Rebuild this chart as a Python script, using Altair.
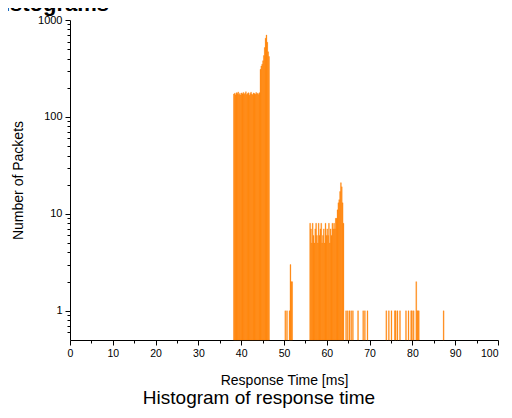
import altair as alt
import pandas as pd

# ---- data ----
bin_width = 0.2

main_start = 38.2
main_counts = [172, 176, 169, 178, 174, 181, 170, 175, 168, 177, 173, 179, 171, 176, 182, 170,
               174, 178, 167, 175, 180, 172, 169, 177, 174, 171, 179, 173, 176, 170, 178,
               310, 335, 350, 380, 430, 520, 650, 700, 590, 470, 420]

second_start = 56.0
second_counts = [8, 7, 5, 8, 6, 5, 7, 8, 6, 5, 8, 6, 7, 8, 5, 6, 7, 5, 8, 6,
                 7, 6, 8, 5, 7, 6, 8, 7, 8, 7, 9, 9, 11, 13, 14, 17, 21, 19, 13, 8]

small_positions = [50.2, 50.6, 51.2, 51.4, 51.6, 51.8]
small_counts = [1, 1, 1, 3, 2, 2]

sparse_positions = [64.4, 64.8, 65.2, 65.6, 66.0, 67.2, 68.4, 68.8, 69.4, 73.8, 74.4, 75.0,
                    75.8, 76.0, 76.4, 77.0, 78.4, 79.0, 79.6, 79.8, 80.2, 80.8, 81.0, 81.2,
                    81.4, 87.2]
sparse_counts = [1, 1, 1, 1, 1, 1, 1, 1, 1, 1, 1, 1,
                 1, 1, 1, 1, 1, 1, 1, 1, 1, 2, 1, 1,
                 1, 1]

x_ticks = [0, 5, 10, 15, 20, 25, 30, 35, 40, 45, 50, 55, 60, 65, 70, 75, 80, 85, 90, 95, 100]
y_ticks = [0.6, 0.7, 0.8, 0.9, 1, 2, 3, 4, 5, 6, 7, 8, 9, 10, 20, 30, 40, 50, 60, 70, 80, 90,
           100, 200, 300, 400, 500, 600, 700, 800, 900, 1000]

chart_title = "Histograms"
caption = "Histogram of response time"
x_title = "Response Time [ms]"
y_title = "Number of Packets"

# ---- table ----
starts = ([round(main_start + i * bin_width, 1) for i in range(len(main_counts))]
          + [round(second_start + i * bin_width, 1) for i in range(len(second_counts))]
          + small_positions + sparse_positions)
counts = main_counts + second_counts + small_counts + sparse_counts
df = pd.DataFrame({"start": starts, "count": counts})
df["end"] = df["start"] + bin_width

ORANGE = "#FF8000"
FONT = "Liberation Sans"

bars = alt.Chart(df).mark_bar(color=ORANGE, stroke=ORANGE, strokeWidth=0.3, opacity=1).encode(
    x=alt.X("start:Q",
            scale=alt.Scale(domain=[0, 100], nice=False, zero=False),
            axis=alt.Axis(values=x_ticks, title=x_title,
                          labelExpr="datum.value % 10 == 0 ? datum.label : ''",
                          tickSize={"condition": {"test": "datum.value % 10 == 0", "value": 5}, "value": 3},
                          labelAlign={"condition": {"test": "datum.value == 100", "value": "right"}, "value": "center"},
                          labelFlush=False, labelOverlap=False, labelPadding=3, labelFontSize=10.5,
                          titleBaseline="middle", titleY=40)),
    x2="end:Q",
    y=alt.Y("count:Q",
            scale=alt.Scale(type="log", domain=[0.5, 1000], nice=False),
            axis=alt.Axis(values=y_ticks, title=y_title,
                          labelExpr="(datum.value == 1 || datum.value == 10 || datum.value == 100 || datum.value == 1000) ? format(datum.value, 'd') : ''",
                          tickSize={"condition": {"test": "datum.value == 1 || datum.value == 10 || datum.value == 100 || datum.value == 1000", "value": 5}, "value": 3},
                          labelFlush=False, labelOverlap=False, labelPadding=3,
                          titleBaseline="middle", titleX=-52, titleY=160)),
    y2=alt.datum(0.5),
)

title_text = alt.Chart(pd.DataFrame({"t": [chart_title]})).mark_text(
    align="left", baseline="alphabetic", font=FONT, fontSize=22, fontWeight="bold", color="black"
).encode(text="t:N", x=alt.value(-82), y=alt.value(-9))

caption_text = alt.Chart(pd.DataFrame({"t": [caption]})).mark_text(
    align="center", baseline="alphabetic", font=FONT, fontSize=19, color="black"
).encode(text="t:N", x=alt.value(189), y=alt.value(384))

chart = alt.layer(bars, title_text, caption_text).properties(
    width=428, height=320,
    autosize=alt.AutoSizeParams(type="none"),
    padding={"left": 62, "top": 12, "right": 6, "bottom": 70},
).configure_view(stroke=None).configure_axis(
    grid=False, domainColor="black", tickColor="black", labelColor="black", titleColor="black",
    labelFont=FONT, titleFont=FONT, labelFontSize=11, titleFontSize=14, titleFontWeight="normal",
    domainWidth=1, tickWidth=1,
)

chart.save("out.html", embed_options={"renderer": "svg", "actions": False})
